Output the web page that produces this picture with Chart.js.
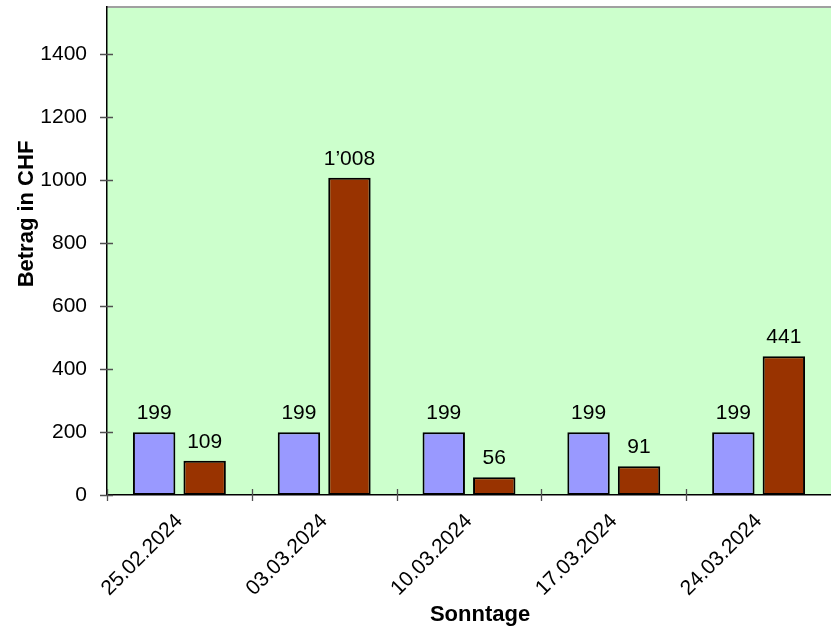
<!DOCTYPE html>
<html>
<head>
<meta charset="utf-8">
<script src="https://cdn.jsdelivr.net/npm/chart.js@4/dist/chart.umd.min.js"></script>
<style>
  html, body { margin: 0; padding: 0; background: #ffffff; }
  #wrap { width: 831px; height: 630px; }
</style>
</head>
<body>
<div id="wrap"><canvas id="c" width="831" height="630"></canvas></div>
<script>
// Sundays and the amounts per Sunday (CHF)
const categories = ['25.02.2024', '03.03.2024', '10.03.2024', '17.03.2024', '24.03.2024'];
const seriesBlue = [199, 199, 199, 199, 199];
const seriesRed = [109, 1008, 56, 91, 441];
const yTicks = [0, 200, 400, 600, 800, 1000, 1200, 1400];
const yMax = 1550;

const FONT = '"Liberation Sans", Arial, sans-serif';

function formatCHF(v) {
  return String(v).replace(/\B(?=(\d{3})+(?!\d))/g, '\u2019');
}

// Plot background, top border and the cross-shaped axis ticks
const framePlugin = {
  id: 'frame',
  beforeDraw(chart) {
    const { ctx, chartArea: a } = chart;
    ctx.save();
    ctx.fillStyle = '#CCFFCC';
    ctx.fillRect(a.left, a.top, a.right - a.left, a.bottom - a.top);
    ctx.strokeStyle = '#A0A0A0';
    ctx.lineWidth = 2;
    ctx.beginPath();
    ctx.moveTo(a.left, a.top);
    ctx.lineTo(a.right, a.top);
    ctx.stroke();
    ctx.restore();
  },
  afterDraw(chart) {
    const { ctx, chartArea: a, scales } = chart;
    ctx.save();
    ctx.strokeStyle = '#505050';
    ctx.lineWidth = 1.3;
    ctx.beginPath();
    yTicks.forEach(v => {
      const y = Math.round(scales.y.getPixelForValue(v)) + 0.5;
      ctx.moveTo(a.left - 7, y);
      ctx.lineTo(a.left + 6, y);
    });
    const xs = scales.x;
    for (let i = 0; i <= categories.length; i++) {
      const x = Math.round(xs.getPixelForValue(i - 0.5)) + 0.5;
      if (x > a.right) continue;
      ctx.moveTo(x, a.bottom - 6);
      ctx.lineTo(x, a.bottom + 6);
    }
    ctx.stroke();
    // axis titles
    ctx.fillStyle = '#000000';
    ctx.font = 'bold 22px ' + FONT;
    ctx.textAlign = 'center';
    ctx.textBaseline = 'alphabetic';
    ctx.fillText('Sonntage', 480, 621);
    ctx.translate(33, 214);
    ctx.rotate(-Math.PI / 2);
    ctx.fillText('Betrag in CHF', 0, 0);
    ctx.restore();
  }
};

// Value labels above each bar
const valueLabels = {
  id: 'valueLabels',
  afterDatasetsDraw(chart) {
    const { ctx } = chart;
    ctx.save();
    ctx.fillStyle = '#000000';
    ctx.font = '21px ' + FONT;
    ctx.textAlign = 'center';
    ctx.textBaseline = 'alphabetic';
    chart.data.datasets.forEach((ds, di) => {
      chart.getDatasetMeta(di).data.forEach((bar, i) => {
        ctx.fillText(formatCHF(ds.data[i]), bar.x, bar.y - 13);
      });
    });
    ctx.restore();
  }
};

new Chart(document.getElementById('c'), {
  type: 'bar',
  data: {
    labels: categories,
    datasets: [
      {
        data: seriesBlue,
        backgroundColor: '#9999FF',
        borderColor: '#000000',
        borderWidth: 2,
        borderSkipped: false
      },
      {
        data: seriesRed,
        backgroundColor: '#993300',
        borderColor: '#000000',
        borderWidth: 2,
        borderSkipped: false
      }
    ]
  },
  options: {
    responsive: false,
    devicePixelRatio: 1,
    animation: false,
    categoryPercentage: 0.6975,
    barPercentage: 0.84,
    layout: { padding: { top: 7, right: 0, left: 0, bottom: 0 } },
    plugins: {
      legend: { display: false },
      tooltip: { enabled: false }
    },
    scales: {
      x: {
        grid: { display: false, drawTicks: false },
        border: { display: true, color: '#000000', width: 1.5 },
        ticks: {
          color: '#000000',
          font: { family: FONT, size: 21 },
          minRotation: 45,
          maxRotation: 45,
          padding: 14,
          autoSkip: false
        },
        afterFit(scale) {
          scale.height = 135;
          scale.paddingLeft = 0;
          scale.paddingRight = 0;
        }
      },
      y: {
        min: 0,
        max: yMax,
        grid: { display: false, drawTicks: false },
        border: { display: true, color: '#000000', width: 1.5 },
        afterBuildTicks(scale) {
          scale.ticks = yTicks.map(v => ({ value: v }));
        },
        ticks: {
          color: '#000000',
          font: { family: FONT, size: 21 },
          padding: 20,
          callback: v => String(v)
        },
        afterFit(scale) {
          scale.width = 107;
          scale.paddingTop = 0;
          scale.paddingBottom = 0;
        }
      }
    }
  },
  plugins: [framePlugin, valueLabels]
});
</script>
</body>
</html>
